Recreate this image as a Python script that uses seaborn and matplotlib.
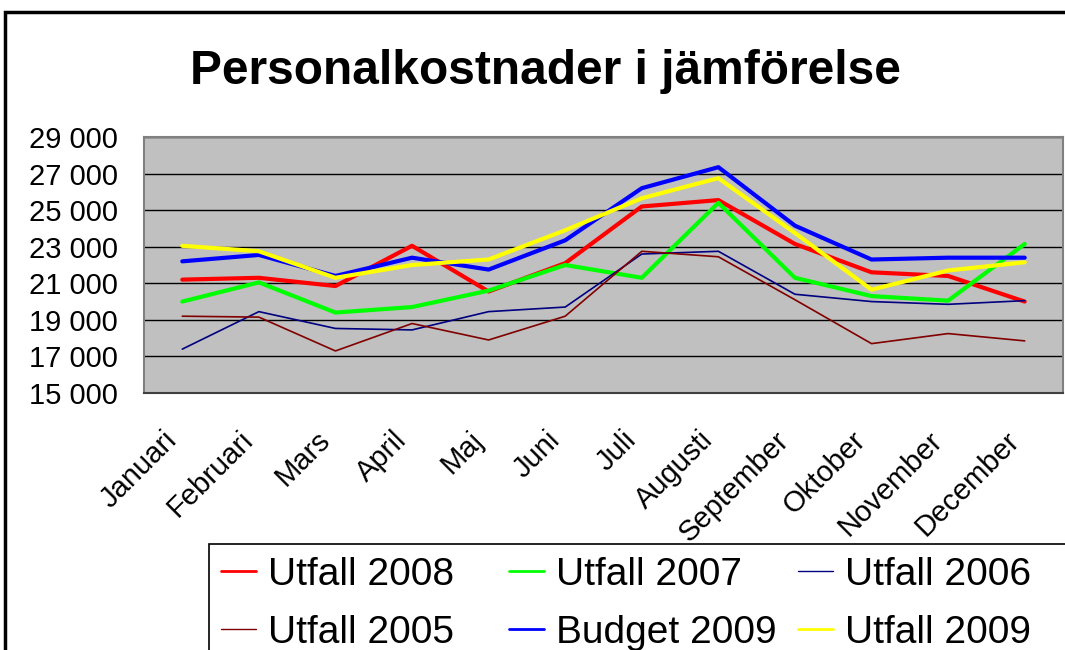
import matplotlib
matplotlib.use("Agg")
import matplotlib.pyplot as plt
from matplotlib.patches import Rectangle
from matplotlib.lines import Line2D
import seaborn as sns
import numpy as np

months = ["Januari", "Februari", "Mars", "April", "Maj", "Juni", "Juli",
          "Augusti", "September", "Oktober", "November", "December"]

utfall_2008 = [21200, 21300, 20850, 23050, 20550, 22100, 25200, 25550, 23150, 21600, 21400, 20000]
utfall_2007 = [20000, 21050, 19400, 19700, 20600, 22000, 21300, 25400, 21300, 20300, 20050, 23150]
utfall_2006 = [17400, 19450, 18530, 18450, 19450, 19700, 22600, 22750, 20400, 20000, 19850, 20050]
utfall_2005 = [19200, 19150, 17300, 18800, 17900, 19200, 22750, 22450, 20100, 17700, 18250, 17850]
budget_2009 = [22200, 22550, 21400, 22400, 21750, 23350, 26200, 27350, 24150, 22300, 22400, 22400]
utfall_2009 = [23050, 22750, 21300, 22000, 22300, 23900, 25650, 26750, 23750, 20650, 21700, 22150]

series_names = ["Utfall 2008", "Utfall 2007", "Utfall 2006", "Utfall 2005", "Budget 2009", "Utfall 2009"]
series_values = [utfall_2008, utfall_2007, utfall_2006, utfall_2005, budget_2009, utfall_2009]
series_colors = ["#FF0000", "#00FF00", "#000080", "#800000", "#0000FF", "#FFFF00"]
series_widths = [3.0, 3.0, 1.2, 1.2, 3.0, 3.0]

y_ticks = list(range(15000, 29001, 2000))
y_labels = [f"{v:,}".replace(",", " ") for v in y_ticks]

sns.set_style("white")
plt.rcParams["font.family"] = ["Liberation Sans", "DejaVu Sans"]
plt.rcParams["text.color"] = "black"
plt.rcParams["xtick.color"] = "black"
plt.rcParams["ytick.color"] = "black"

fig = plt.figure(figsize=(10.65, 6.5), dpi=100)
ax = fig.add_axes([144 / 1065, 1 - 393 / 650, (1063 - 144) / 1065, (393 - 137) / 650])
ax.set_facecolor("#C0C0C0")

x = np.arange(len(months))
for name, vals, col, lw in zip(series_names, series_values, series_colors, series_widths):
    sns.lineplot(x=x, y=vals, ax=ax, color=col, linewidth=lw, label=name)

ax.set_xlim(-0.5, len(months) - 0.5)
ax.set_ylim(15000, 29000)
ax.set_yticks(y_ticks)
ax.set_yticklabels(y_labels, fontsize=21, color="black")
ax.yaxis.grid(True, color="black", linewidth=1.0)
ax.set_axisbelow(True)

ax.set_xticks(x)
ax.set_xticklabels(months, fontsize=21, rotation=45, ha="right", va="bottom",
                   rotation_mode="anchor", color="black")
ax.set_xticks(np.arange(-0.5, len(months), 1.0), minor=True)
ax.tick_params(axis="x", which="major", length=0, pad=38)
ax.tick_params(axis="x", which="minor", length=8, width=1.2, color="#404040", direction="out")
ax.tick_params(axis="y", which="major", length=8, width=1.2, color="#404040", direction="out", pad=11)
ax.set_xlabel("")
ax.set_ylabel("")

for s in ax.spines.values():
    s.set_color("#808080")
    s.set_linewidth(1.5)
ax.spines["bottom"].set_color("#404040")

ax.get_legend().remove()
h, l = ax.get_legend_handles_labels()
leg_widths = [2.0, 2.0, 1.0, 1.0, 2.0, 2.0]
proxies = [Line2D([], [], color=c, linewidth=w) for c, w in zip(series_colors, leg_widths)]

# legend frame (extends past the figure edge as in the reference)
fig.patches.append(Rectangle((209 / 1065, -0.3), 1.0, 0.3 + 1 - 544 / 650, transform=fig.transFigure,
                             fill=False, edgecolor="black", linewidth=1.2))

col_x = [221, 509, 798]
col_items = [(0, 3), (1, 4), (2, 5)]
for cx, (a, b) in zip(col_x, col_items):
    fig.legend([proxies[a], proxies[b]], [l[a], l[b]],
               loc="upper left", bbox_to_anchor=(cx / 1065, 1 - 557 / 650),
               ncol=1, fontsize=28, frameon=False,
               handlelength=0.9, handletextpad=0.3,
               labelspacing=0.56, borderpad=0, borderaxespad=0)

fig.text(545 / 1065, 1 - 71 / 650, "Personalkostnader i jämförelse", fontsize=34.5,
         fontweight="bold", ha="center", va="center", color="black")

fig.patches.append(Rectangle((5 / 1065, -0.2), 1.2, 1.2 - 12 / 650, transform=fig.transFigure,
                             fill=False, edgecolor="black", linewidth=2.5))

fig.savefig("out.png", dpi=100)
